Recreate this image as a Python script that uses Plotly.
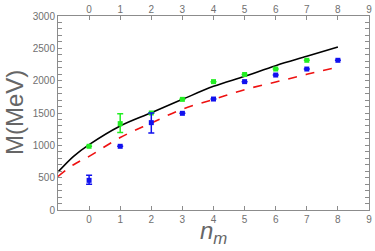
import plotly.graph_objects as go

# Data
n_green = [0, 1, 2, 3, 4, 5, 6, 7]
m_green = [985, 1336, 1500, 1711, 1985, 2095, 2180, 2315]
e_green_plus = [0, 154, 0, 0, 0, 0, 0, 0]
e_green_minus = [0, 139, 0, 0, 0, 0, 0, 0]

n_blue = [0, 1, 2, 3, 4, 5, 6, 7, 8]
m_blue = [459, 985, 1351, 1495, 1716, 1985, 2087, 2180, 2315]
e_blue_plus = [78, 0, 150, 0, 0, 0, 0, 0, 0]
e_blue_minus = [62, 0, 160, 0, 0, 0, 0, 0, 0]

n_curve = [-1, -0.5, 0, 1, 2, 3, 4, 5, 6, 7, 8]
m_black = [587, 830, 1011, 1300, 1505, 1711, 1912, 2067, 2232, 2376, 2520]
m_red = [518, 700, 830, 1120, 1345, 1560, 1710, 1861, 1979, 2098, 2211]

x_ticks = [0, 1, 2, 3, 4, 5, 6, 7, 8, 9]
y_ticks = [0, 500, 1000, 1500, 2000, 2500, 3000]

GREY = "#8c8c8c"
TXT = "#707070"

fig = go.Figure()
fig.add_trace(go.Scatter(x=n_curve, y=m_black, mode="lines",
                         line=dict(color="black", width=1.6, shape="spline"),
                         showlegend=False))
fig.add_trace(go.Scatter(x=n_curve, y=m_red, mode="lines",
                         line=dict(color="#ee1111", width=1.6, dash="dash", shape="spline"),
                         showlegend=False))
fig.add_trace(go.Scatter(x=n_green, y=m_green, mode="markers",
                         marker=dict(color="#22ee22", symbol="square", size=5),
                         error_y=dict(type="data", array=e_green_plus, arrayminus=e_green_minus,
                                      color="#22ee22", thickness=1.5, width=3),
                         showlegend=False))
fig.add_trace(go.Scatter(x=n_blue, y=m_blue, mode="markers",
                         marker=dict(color="#1111ee", symbol="square", size=5),
                         error_y=dict(type="data", array=e_blue_plus, arrayminus=e_blue_minus,
                                      color="#1111ee", thickness=1.5, width=3),
                         showlegend=False))
# invisible trace for the top axis
fig.add_trace(go.Scatter(x=[0], y=[0], xaxis="x2", mode="markers",
                         marker=dict(opacity=0), showlegend=False, hoverinfo="skip"))

axis_font = dict(family="Liberation Sans, Arial", size=10, color=TXT)

fig.update_layout(
    width=375, height=251,
    margin=dict(l=58, r=6, t=16, b=41, pad=0, autoexpand=False),
    paper_bgcolor="white", plot_bgcolor="white",
    xaxis=dict(range=[-1, 9], tickvals=x_ticks, ticks="inside", ticklen=4,
               tickcolor=GREY, linecolor=GREY, linewidth=1, showline=True,
               mirror=True, showgrid=False, zeroline=False, tickfont=axis_font,
               automargin=False),
    xaxis2=dict(range=[-1, 9], tickvals=x_ticks, ticks="inside", ticklen=4,
                tickcolor=GREY, overlaying="x", side="top", showline=False,
                showgrid=False, zeroline=False, tickfont=axis_font, automargin=False),
    yaxis=dict(range=[0, 3000], tickvals=y_ticks, ticks="inside", ticklen=4,
               tickcolor=GREY, linecolor=GREY, linewidth=1, showline=True,
               mirror="allticks", showgrid=False, zeroline=False, tickfont=axis_font,
               automargin=False,
               minor=dict(dtick=100, ticks="inside", ticklen=2, tickcolor=GREY)),
    annotations=[
        dict(text="M(MeV)", x=0, xref="paper", xanchor="center",
             y=0.5, yref="paper", yanchor="middle", xshift=-44, textangle=-90,
             showarrow=False, font=dict(family="Liberation Sans, Arial", size=24, color="#666666")),
        dict(text="<i>n</i><sub><i>m</i></sub>", x=0.5, xref="paper", xanchor="center",
             y=0, yref="paper", yanchor="top", yshift=-5,
             showarrow=False, font=dict(family="Liberation Sans, Arial", size=24, color="#666666")),
    ],
)

fig.write_html("out.html", config={"displayModeBar": False},
               post_script="document.body.style.margin='0';document.body.style.padding='0';")
